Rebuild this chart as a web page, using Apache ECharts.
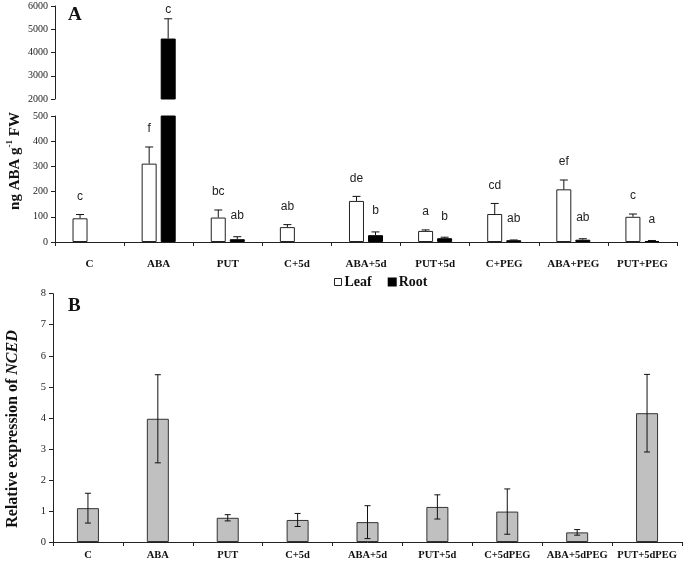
<!DOCTYPE html>
<html><head><meta charset="utf-8">
<script src="https://cdn.jsdelivr.net/npm/echarts@6/dist/echarts.min.js"></script>
<style>html,body{margin:0;padding:0;background:#fff}#c{width:685px;height:561px}</style>
</head><body><div id="c"></div>
<script>
// ---- Data ----
const categoriesA = ['C','ABA','PUT','C+5d','ABA+5d','PUT+5d','C+PEG','ABA+PEG','PUT+PEG'];
const leafMean = [94, 311, 97, 59, 163, 44, 111, 209, 100];
const leafErr  = [15, 66, 30, 10, 18, 4, 42, 37, 11];
const rootMean = [null, 4600, 11, null, 27, 15, 7, 9, 4];
const rootErr  = [null, 850, 10, null, 13, 4, 1, 4, 2];
const leafLetters = ['c','f','bc','ab','de','a','cd','ef','c'];
const rootLetters = ['','c','ab','','b','b','ab','ab','a'];
const upperTicksA = [2000, 3000, 4000, 5000, 6000];
const lowerTicksA = [0, 100, 200, 300, 400, 500];

const categoriesB = ['C','ABA','PUT','C+5d','ABA+5d','PUT+5d','C+5dPEG','ABA+5dPEG','PUT+5dPEG'];
const ncedMean = [1.09, 3.97, 0.78, 0.71, 0.64, 1.13, 0.98, 0.31, 4.15];
const ncedErr  = [0.48, 1.42, 0.10, 0.21, 0.53, 0.39, 0.73, 0.09, 1.25];
const ticksB = [0, 1, 2, 3, 4, 5, 6, 7, 8];

// ---- Chart ----
const serif = '"Liberation Serif", "Times New Roman", serif';
const sans = '"Liberation Sans", Arial, sans-serif';
const chart = echarts.init(document.getElementById('c'));

function errSeries(xIdx, yIdx, means, errs, letters, offset, opts) {
  const data = [];
  means.forEach((m, i) => {
    if (m == null) return;
    if (opts.keep && !opts.keep(m)) return;
    data.push([i, m, errs[i] || 0, i]);
  });
  return {
    type: 'custom', xAxisIndex: xIdx, yAxisIndex: yIdx, silent: true, z: 5,
    data, encode: { x: 0, y: 1 },
    renderItem(params, api) {
      const i = api.value(0), m = api.value(1), e = api.value(2), k = api.value(3);
      const top = api.coord([i, m + e]);
      const bot = api.coord([i, opts.both ? m - e : m]);
      const x = top[0] + offset;
      const cap = opts.cap;
      const st = { stroke: '#111', lineWidth: 1 };
      const children = [];
      if (e > 0) {
        children.push({ type: 'line', shape: { x1: x, y1: top[1], x2: x, y2: bot[1] }, style: st });
        children.push({ type: 'line', shape: { x1: x - cap, y1: top[1], x2: x + cap, y2: top[1] }, style: st });
        if (opts.both) children.push({ type: 'line', shape: { x1: x - cap, y1: bot[1], x2: x + cap, y2: bot[1] }, style: st });
      }
      if (letters && letters[k]) {
        children.push({ type: 'text', x: x, y: top[1] - opts.gap,
          style: { text: letters[k], font: '12px ' + sans, fill: '#222', textAlign: 'center', textVerticalAlign: 'middle' } });
      }
      return { type: 'group', children };
    }
  };
}

const yLabel = { fontFamily: serif, fontSize: 10, color: '#222', margin: 7, formatter: v => String(v) };
const axLine = { show: true, lineStyle: { color: '#222', width: 1 } };
const yTick = { show: true, length: 4, inside: false, lineStyle: { color: '#222' } };

const leafStyle = { color: '#fff', borderColor: '#222', borderWidth: 1 };
const rootStyle = { color: '#000', borderColor: '#000', borderWidth: 1 };

const option = {
  animation: false,
  backgroundColor: '#fff',
  grid: [
    { left: 55, right: 8, top: 6, height: 93 },
    { left: 55, right: 8, top: 116, height: 126 },
    { left: 53, right: 3, top: 293.7, height: 248.6 }
  ],
  xAxis: [
    { gridIndex: 0, type: 'category', data: categoriesA, show: false },
    { gridIndex: 1, type: 'category', data: categoriesA, axisLine: axLine,
      axisTick: { show: true, length: 4, lineStyle: { color: '#222' } },
      axisLabel: { interval: 0, fontFamily: serif, fontWeight: 'bold', fontSize: 11, color: '#111', margin: 17 } },
    { gridIndex: 2, type: 'category', data: categoriesB, axisLine: axLine,
      axisTick: { show: true, length: 4, lineStyle: { color: '#222' } },
      axisLabel: { interval: 0, hideOverlap: false, fontFamily: serif, fontWeight: 'bold', fontSize: 10.5, color: '#111', margin: 8 } }
  ],
  yAxis: [
    { gridIndex: 0, type: 'value', min: upperTicksA[0], max: upperTicksA[upperTicksA.length - 1], interval: 1000,
      axisLine: axLine, axisTick: yTick, axisLabel: yLabel, splitLine: { show: false } },
    { gridIndex: 1, type: 'value', min: lowerTicksA[0], max: lowerTicksA[lowerTicksA.length - 1], interval: 100,
      axisLine: axLine, axisTick: yTick, axisLabel: yLabel, splitLine: { show: false } },
    { gridIndex: 2, type: 'value', min: ticksB[0], max: ticksB[ticksB.length - 1], interval: 1,
      axisLine: axLine, axisTick: yTick, axisLabel: Object.assign({}, yLabel, { fontSize: 10.5 }), splitLine: { show: false } }
  ],
  legend: {
    data: [{ name: 'Leaf', itemStyle: leafStyle }, { name: 'Root' }],
    left: 329, top: 270, icon: 'rect', itemWidth: 7, itemHeight: 7, itemGap: 16,
    selectedMode: false,
    textStyle: { fontFamily: serif, fontWeight: 'bold', fontSize: 14, color: '#111', padding: [0, 0, 0, -2] }
  },
  series: [
    { name: 'Leaf', type: 'bar', xAxisIndex: 0, yAxisIndex: 0, data: leafMean, barWidth: 15, barGap: '27%', itemStyle: leafStyle, clip: true },
    { name: 'Root', type: 'bar', xAxisIndex: 0, yAxisIndex: 0, data: rootMean, barWidth: 15, barGap: '27%', itemStyle: rootStyle, clip: true },
    { name: 'Leaf', type: 'bar', xAxisIndex: 1, yAxisIndex: 1, data: leafMean, barWidth: 15, barGap: '27%', itemStyle: leafStyle, clip: true },
    { name: 'Root', type: 'bar', xAxisIndex: 1, yAxisIndex: 1, data: rootMean, barWidth: 15, barGap: '27%', itemStyle: rootStyle, clip: true },
    errSeries(0, 0, rootMean, rootErr, rootLetters, 9.5, { cap: 4, gap: 9, keep: m => m > 500 }),
    errSeries(1, 1, leafMean, leafErr, leafLetters, -9.5, { cap: 4, gap: 18, keep: m => m <= 500 }),
    errSeries(1, 1, rootMean, rootErr, rootLetters, 9.5, { cap: 4, gap: 21, keep: m => m <= 500 }),
    { name: 'NCED', type: 'bar', xAxisIndex: 2, yAxisIndex: 2, data: ncedMean, barWidth: 22,
      itemStyle: { color: '#c0c0c0', borderColor: '#333', borderWidth: 1 } },
    errSeries(2, 2, ncedMean, ncedErr, null, 0, { cap: 3, gap: 0, both: true })
  ],
  graphic: [
    { type: 'text', x: 68, y: 6, style: { text: 'A', font: 'bold 19px ' + serif, fill: '#111' } },
    { type: 'text', x: 68, y: 297, style: { text: 'B', font: 'bold 19px ' + serif, fill: '#111' } },
    { type: 'text', x: 14, y: 161, rotation: Math.PI / 2,
      style: { text: '{n|ng ABA g}{s|-1}{n| FW}', textAlign: 'center', textVerticalAlign: 'middle', fill: '#111',
        rich: { n: { font: 'bold 15px ' + serif, lineHeight: 18, verticalAlign: 'bottom', fill: '#111' },
                s: { font: 'bold 9px ' + serif, lineHeight: 18, verticalAlign: 'top', fill: '#111' } } } },
    { type: 'text', x: 13, y: 429, rotation: Math.PI / 2,
      style: { text: '{n|Relative expression of }{i|NCED}', textAlign: 'center', textVerticalAlign: 'middle', fill: '#111',
        rich: { n: { font: 'bold 16px ' + serif, fill: '#111' }, i: { font: 'italic bold 16px ' + serif, fill: '#111' } } } }
  ]
};
chart.setOption(option);
</script></body></html>
